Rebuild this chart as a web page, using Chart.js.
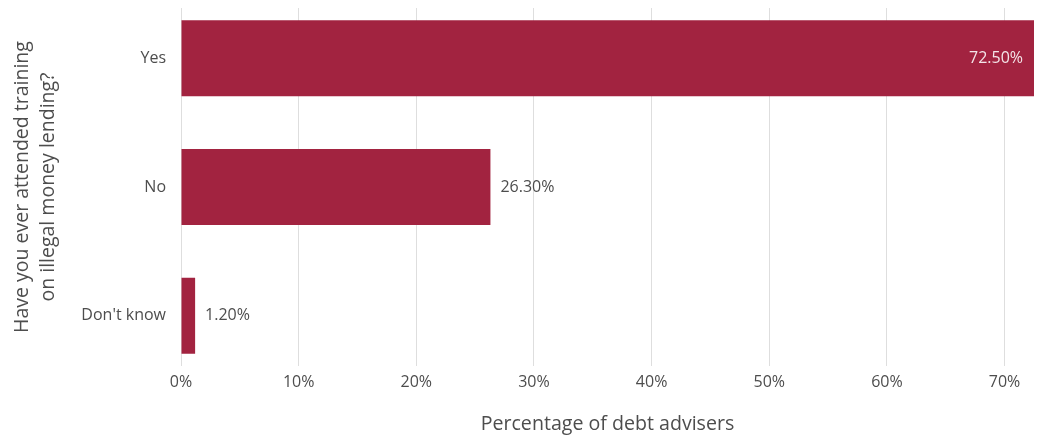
<!DOCTYPE html>
<html>
<head>
<meta charset="utf-8">
<script src="https://cdn.jsdelivr.net/npm/chart.js@4/dist/chart.umd.min.js"></script>
<style>
  html, body { margin: 0; padding: 0; background: #ffffff; }
  #wrap { width: 1037px; height: 441px; position: relative; }
</style>
</head>
<body>
<div id="wrap"><canvas id="chart"></canvas></div>
<script>
// Survey answers and the share of debt advisers giving each one (%)
const categories = ['Yes', 'No', "Don't know"];
const shares = [72.5, 26.3, 1.2];
const xTickValues = [0, 10, 20, 30, 40, 50, 60, 70];

const FONT = "'Open Sans', 'Noto Sans', sans-serif";
const BAR = '#A22340';
const TEXT = '#4d4d4d';

// Value labels: inside the bar when it spans most of the axis, otherwise just past its end
const valueLabels = {
  id: 'valueLabels',
  afterDatasetsDraw(chart) {
    const ctx = chart.ctx;
    const meta = chart.getDatasetMeta(0);
    const area = chart.chartArea;
    ctx.save();
    ctx.font = '16px ' + FONT;
    ctx.textBaseline = 'middle';
    meta.data.forEach((bar, i) => {
      const text = shares[i].toFixed(2) + '%';
      if (bar.x > area.right - 80) {
        ctx.fillStyle = 'rgba(255,255,255,0.88)';
        ctx.textAlign = 'right';
        ctx.fillText(text, bar.x - 11, bar.y);
      } else {
        ctx.fillStyle = TEXT;
        ctx.textAlign = 'left';
        ctx.fillText(text, bar.x + 10, bar.y);
      }
    });
    ctx.restore();
  }
};

new Chart(document.getElementById('chart'), {
  type: 'bar',
  data: {
    datasets: [{
      data: shares.map((v, i) => ({ x: v, y: i })),
      backgroundColor: BAR,
      borderWidth: 0,
      categoryPercentage: 1,
      barPercentage: 0.59
    }]
  },
  options: {
    indexAxis: 'y',
    responsive: true,
    maintainAspectRatio: false,
    animation: false,
    layout: { padding: { top: 8, right: 3, left: 0, bottom: 0 } },
    plugins: { legend: { display: false }, tooltip: { enabled: false } },
    scales: {
      x: {
        type: 'linear',
        min: 0,
        max: 72.5,
        afterBuildTicks: (axis) => { axis.ticks = xTickValues.map(v => ({ value: v })); },
        afterFit: (axis) => {
          axis.height = 75;
          axis.paddingLeft = 0;
          axis.paddingRight = 0;
        },
        grid: { color: '#dedede', lineWidth: 1, drawTicks: false },
        border: { display: false },
        ticks: {
          padding: 7,
          color: TEXT,
          font: { family: FONT, size: 16 },
          callback: (v) => v + '%'
        },
        title: {
          display: true,
          text: 'Percentage of debt advisers',
          color: TEXT,
          font: { family: FONT, size: 19.6, lineHeight: 1.2 },
          padding: { top: 0, bottom: 5 }
        }
      },
      y: {
        type: 'linear',
        reverse: true,
        offset: false,
        min: -0.39,
        max: 2.39,
        afterBuildTicks: (axis) => { axis.ticks = categories.map((_, i) => ({ value: i })); },
        afterFit: (axis) => {
          axis.width = 181;
          axis.paddingTop = 0;
          axis.paddingBottom = 0;
        },
        grid: { display: false, drawTicks: false, offset: false },
        border: { display: false },
        ticks: {
          padding: 15,
          color: TEXT,
          font: { family: FONT, size: 16 },
          callback: (v) => categories[v]
        },
        title: {
          display: true,
          text: ['Have you ever attended training', 'on illegal money lending?'],
          color: TEXT,
          font: { family: FONT, size: 19.5, lineHeight: 1.3 },
          padding: { top: 10, bottom: 0 }
        }
      }
    }
  },
  plugins: [valueLabels]
});
</script>
</body>
</html>
